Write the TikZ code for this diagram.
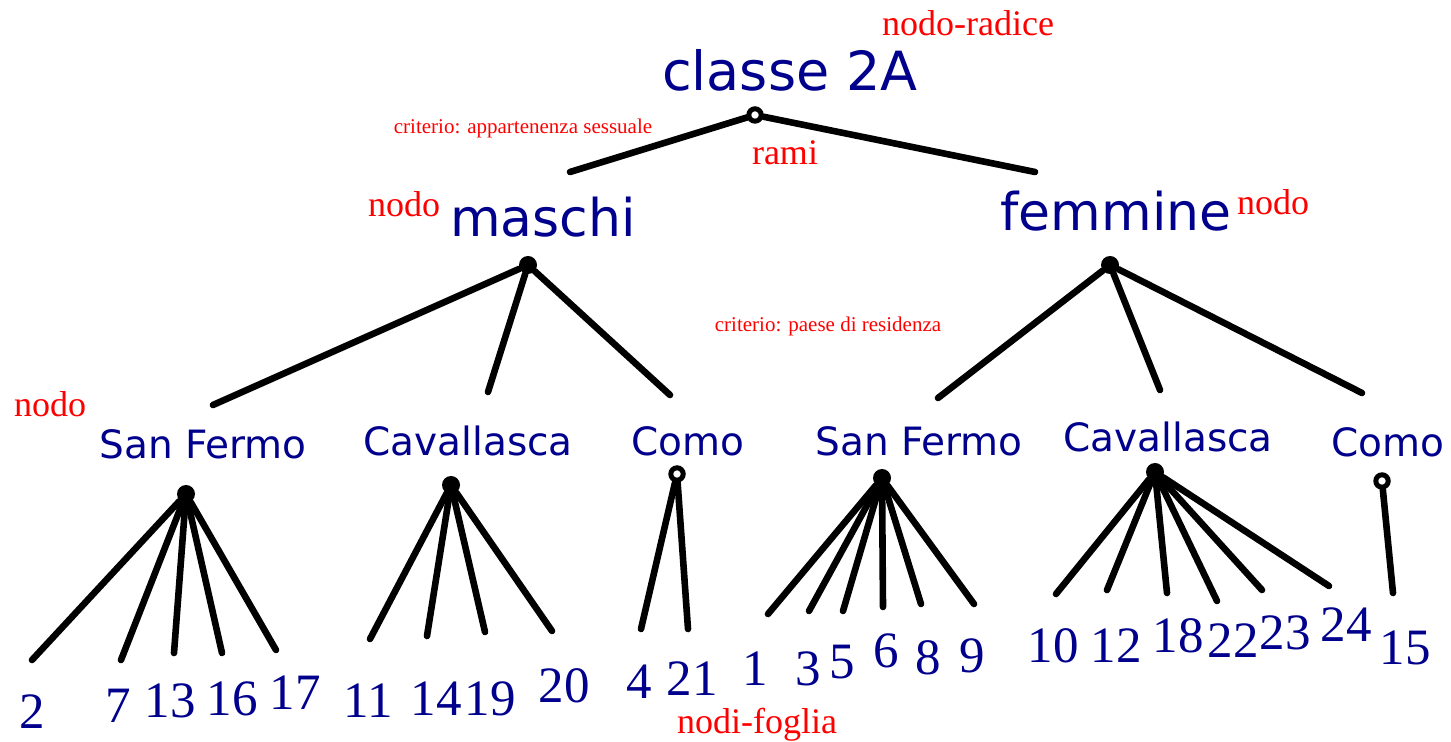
\documentclass[tikz,border=0pt]{standalone}
\usepackage{fontspec}
\setmainfont{Liberation Serif}
\newfontfamily\verdanafont{DejaVu Sans}
\usetikzlibrary{positioning}
\definecolor{navyblue}{RGB}{0,0,140}
\definecolor{notered}{RGB}{255,0,0}
\tikzset{bignode/.style={
    % big blue labels
    font=\verdanafont\fontsize{26}{30}\selectfont,
    text=navyblue,
    inner sep=0pt, anchor=base,
    },
    placenode/.style={
    font=\verdanafont\fontsize{19.5}{23}\selectfont,
    text=navyblue,
    inner sep=0pt, anchor=base,
    },
    leafnum/.style={
    font=\fontsize{25.5}{30}\selectfont,
    text=navyblue,
    inner sep=0pt, anchor=base,
    },
    note/.style={
    font=\fontsize{18}{22}\selectfont,
    text=notered,
    inner sep=0pt, anchor=base,
    },
    smallnote/.style={
    font=\fontsize{10.5}{12}\selectfont,
    text=notered,
    inner sep=0pt, anchor=base,
    },
    knot/.style={circle, fill=black, minimum size=9pt, inner sep=0pt},
    ring/.style={circle, draw=black, line width=2.5pt, fill=white, minimum size=6.2pt, inner sep=0pt},
    branch/.style={line width=3.3pt, line cap=round},
}

\begin{document}
\begin{tikzpicture}[x=0.5pt,y=-0.5pt]
    \useasboundingbox (0,0) rectangle (1451,742);

    % labels
    \node (classe)  [bignode,font=\verdanafont\fontsize{27}{30}\selectfont] at (790,91) {classe 2A};
    \node (maschi)  [bignode]   at (543,237)  {maschi};
    \node (femmine) [bignode]   at (1116,231) {femmine};
    \node (radice)  [note]      at (968,36)   {nodo-radice};
    \node (rami)    [note]      at (785,165)  {rami};
    \node (nodoa)   [note]      at (404,217)  {nodo};
    \node (nodob)   [note]      at (1273,215) {nodo};
    \node (nodoc)   [note]      at (50,417)   {nodo};
    \node (foglia)  [note]      at (757,733)  {nodi-foglia};
    \node (crita)   [smallnote] at (523,134)  {criterio: appartenenza sessuale};
    \node (critb)   [smallnote] at (828,332)  {criterio: paese di residenza};

    \node (sfmlab)   [placenode] at (203,459)  {San Fermo};
    \node (cavmlab)  [placenode] at (468,456)  {Cavallasca};
    \node (comomlab) [placenode] at (688,456)  {Como};
    \node (sfflab)   [placenode] at (919,456)  {San Fermo};
    \node (cavflab)  [placenode] at (1168,452) {Cavallasca};
    \node (comoflab) [placenode] at (1388,457) {Como};

    % knots
    \node (root)  [ring] at (755,115) {};
    \node (mknot) [knot] at (528,265) {};
    \node (fknot) [knot] at (1110,265) {};
    \node (sfm)   [knot] at (186,494) {};
    \node (cavm)  [knot] at (451,485) {};
    \node (comom) [ring] at (677,474) {};
    \node (sff)   [knot] at (882,478) {};
    \node (cavf)  [knot] at (1155,472) {};
    \node (comof) [ring] at (1382,481) {};

    % branches
    \coordinate (root-1) at (570,172);
    \coordinate (root-2) at (1035,172);
    \draw[branch] (root) -- (root-1);
    \draw[branch] (root) -- (root-2);
    \foreach \i/\ex/\ey in {1/213/405,2/488/392,3/670/395}
      {\coordinate (mknot-\i) at (\ex,\ey); \draw[branch] (mknot) -- (mknot-\i);}
    \foreach \i/\ex/\ey in {1/938/398,2/1160/390,3/1362/393}
      {\coordinate (fknot-\i) at (\ex,\ey); \draw[branch] (fknot) -- (fknot-\i);}

    \foreach \i/\ex/\ey in {1/32/660,2/121/660,3/174/653,4/222/653,5/276/650}
      {\coordinate (sfm-\i) at (\ex,\ey); \draw[branch] (sfm) -- (sfm-\i);}
    \foreach \i/\ex/\ey in {1/370/639,2/427/636,3/485/632,4/552/631}
      {\coordinate (cavm-\i) at (\ex,\ey); \draw[branch] (cavm) -- (cavm-\i);}
    \foreach \i/\ex/\ey in {1/641/629,2/688/629}
      {\coordinate (comom-\i) at (\ex,\ey); \draw[branch] (comom) -- (comom-\i);}
    \foreach \i/\ex/\ey in {1/768/614,2/809/611,3/843/611,4/883/607,5/921/604,6/974/604}
      {\coordinate (sff-\i) at (\ex,\ey); \draw[branch] (sff) -- (sff-\i);}
    \foreach \i/\ex/\ey in {1/1056/594,2/1107/590,3/1167/593,4/1217/601,5/1262/590,6/1329/586}
      {\coordinate (cavf-\i) at (\ex,\ey); \draw[branch] (cavf) -- (cavf-\i);}
    \coordinate (comof-1) at (1393,593);
    \draw[branch] (comof) -- (comof-1);

    % leaves
    \foreach \n/\nx/\ny in {2/32/728,7/118/722,13/170/717,16/232/715,17/295/709,
                            11/368/718,14/436/715,19/490/715,20/564/703,
                            4/639/698,21/692/696,
                            1/755/685,3/808/685,5/842/678,6/886/668,8/928/675,9/972/672,
                            10/1053/662,12/1116/662,18/1178/653,22/1233/658,23/1285/649,24/1346/641,
                            15/1405/664}
      {\node (leaf-\n) [leafnum] at (\nx,\ny) {\n};}
\end{tikzpicture}
\end{document}
